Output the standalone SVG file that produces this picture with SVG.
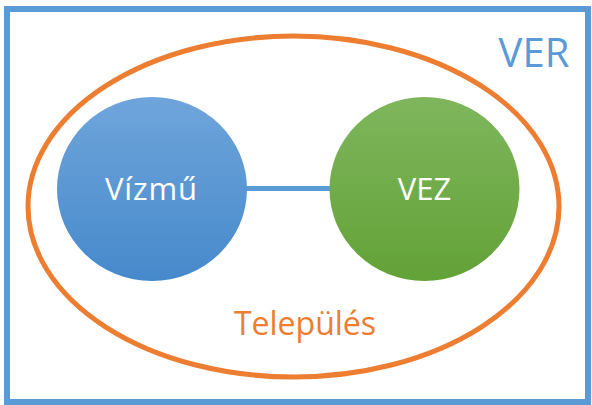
<svg xmlns="http://www.w3.org/2000/svg" width="592" height="405" viewBox="0 0 592 405">
<defs>
<linearGradient id="gb" x1="0" y1="0" x2="0" y2="1">
<stop offset="0" stop-color="#6FA5DB"/>
<stop offset="1" stop-color="#4689CB"/>
</linearGradient>
<linearGradient id="gg" x1="0" y1="0" x2="0" y2="1">
<stop offset="0" stop-color="#7FB65D"/>
<stop offset="1" stop-color="#63A237"/>
</linearGradient>
<style>
.lbl{font-family:"Open Sans","Noto Sans","DejaVu Sans",sans-serif;text-anchor:middle}
.w{fill:#FFFFFF;font-size:31px}
</style>
</defs>
<g id="ver">
<rect x="7" y="9" width="581" height="393" fill="#FFFFFF" stroke="#5B9BD5" stroke-width="6"/>
<text class="lbl" x="534" y="67" font-size="40" fill="#5B9BD5">VER</text>
</g>
<g id="telepules">
<ellipse cx="293.5" cy="206.5" rx="265.5" ry="170.5" fill="none" stroke="#ED7D31" stroke-width="5"/>
<text class="lbl" x="305" y="335" font-size="32" fill="#ED7D31">Település</text>
</g>
<g id="connectors">
<line x1="245" y1="188.5" x2="331" y2="188.5" stroke="#5B9BD5" stroke-width="5"/>
</g>
<g id="vizmu">
<ellipse cx="152" cy="189" rx="95" ry="92" fill="url(#gb)"/>
<text class="lbl w" x="151" y="200" textLength="92" lengthAdjust="spacing">Vízmű</text>
</g>
<g id="vez">
<ellipse cx="424.5" cy="189" rx="95" ry="92" fill="url(#gg)"/>
<text class="lbl w" x="424.5" y="200">VEZ</text>
</g>
</svg>
